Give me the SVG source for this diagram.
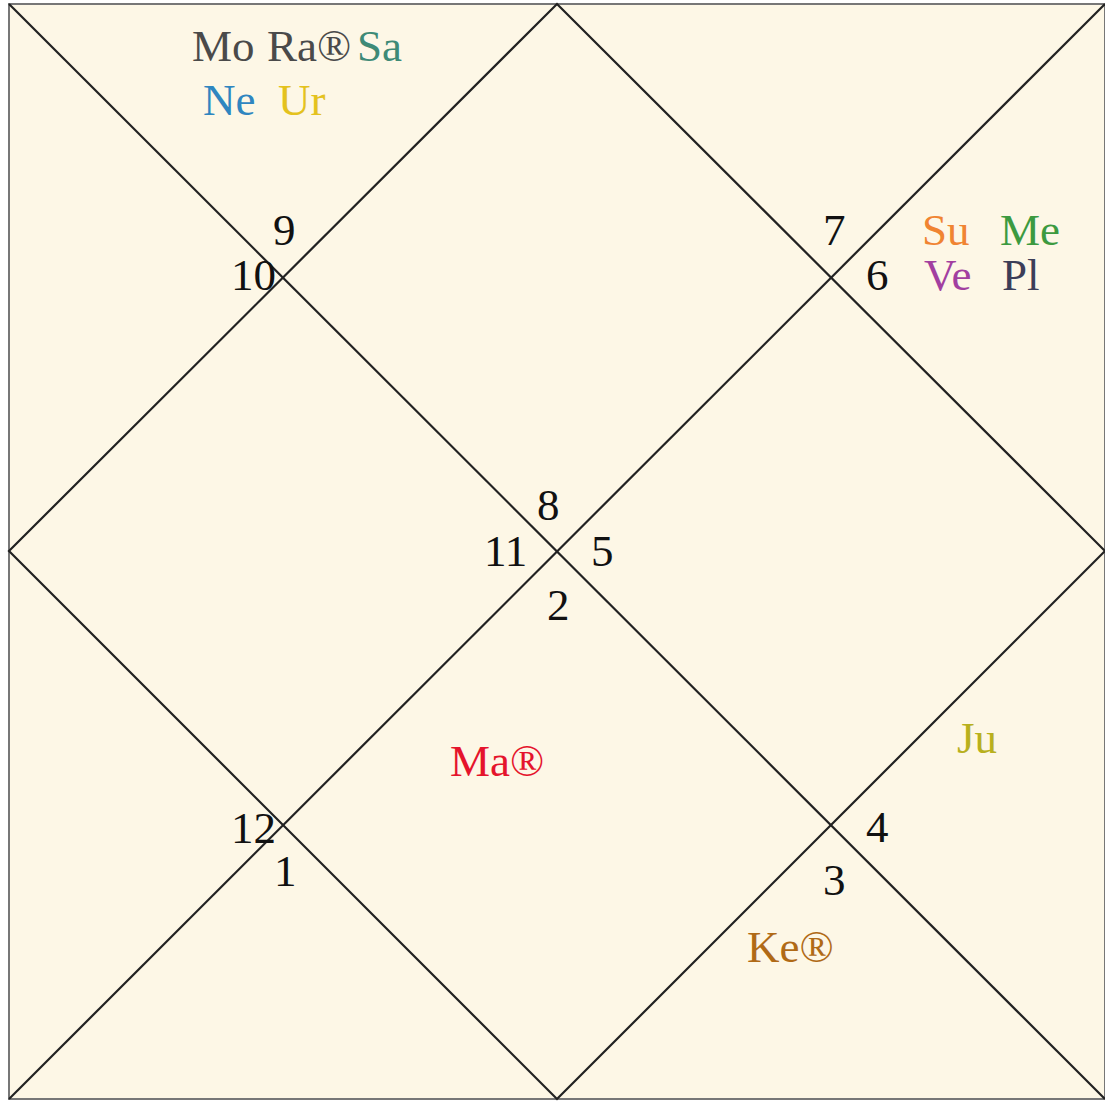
<svg xmlns="http://www.w3.org/2000/svg" width="1105" height="1102" viewBox="0 0 1105 1102">
<style>
text{font-family:"Liberation Serif","Times New Roman",serif;font-size:45px}
.n{fill:#111}
.ln{stroke:#222;stroke-width:2.2;fill:none}
</style>
<rect x="0" y="0" width="1105" height="1102" fill="#ffffff"/>
<rect id="frame" x="9" y="4" width="1096" height="1095" fill="#fdf7e6" stroke="#777" stroke-width="2"/>
<g id="connectors" class="ln">
<line x1="9" y1="4" x2="1105" y2="1099"/>
<line x1="1105" y1="4" x2="9" y2="1099"/>
<polygon points="557,4 1105,551 557,1099 9,551"/>
</g>
<g id="numbers" class="n">
<text x="273" y="245">9</text>
<text x="231" y="290">10</text>
<text x="823" y="245">7</text>
<text x="866" y="290">6</text>
<text x="537" y="520">8</text>
<text x="484" y="566">11</text>
<text x="591" y="566">5</text>
<text x="547" y="620">2</text>
<text x="231" y="843">12</text>
<text x="274" y="886">1</text>
<text x="866" y="842">4</text>
<text x="823" y="895">3</text>
</g>
<g id="house10">
<text x="192" y="61" fill="#4a4a4a">Mo</text>
<text x="267" y="61" fill="#4a4a4a">Ra®</text>
<text x="357" y="61" fill="#3e8a76">Sa</text>
<text x="203" y="115" fill="#2f86c0">Ne</text>
<text x="278" y="115" fill="#e4c21e">Ur</text>
</g>
<g id="house6">
<text x="922" y="245" fill="#f08432">Su</text>
<text x="1000" y="245" fill="#3c9a40">Me</text>
<text x="924" y="290" fill="#a23fa0">Ve</text>
<text x="1002" y="290" fill="#3c3e58">Pl</text>
</g>
<g id="house4"><text x="957" y="753" fill="#b8b01e">Ju</text></g>
<g id="house1"><text x="450" y="776" fill="#e5142c">Ma®</text></g>
<g id="house3"><text x="747" y="962" fill="#b06a16">Ke®</text></g>
</svg>
